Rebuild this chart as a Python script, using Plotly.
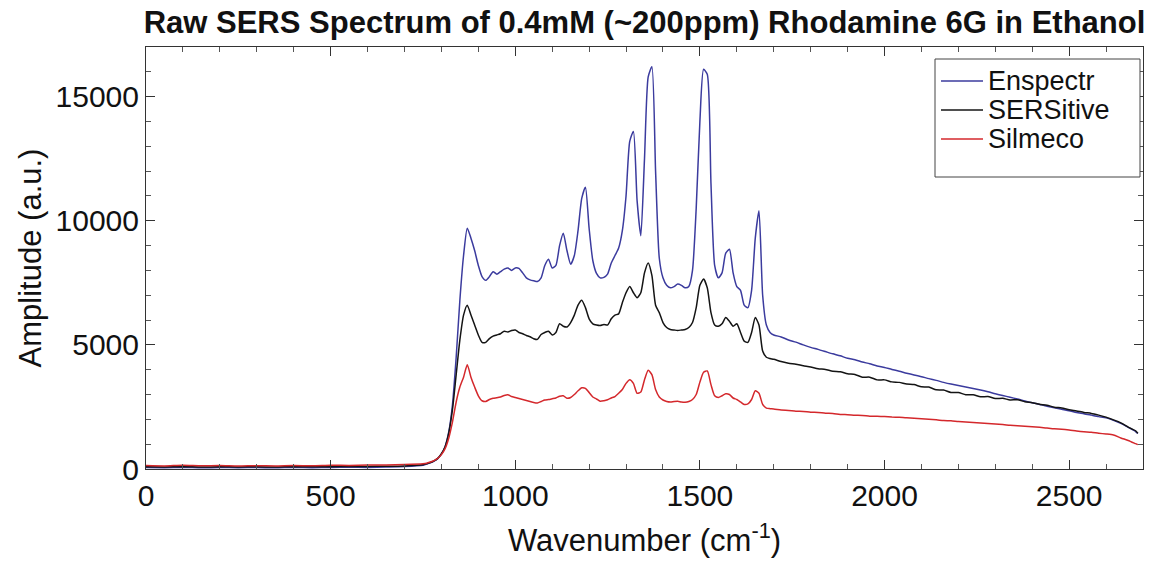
import plotly.graph_objects as go

# Wavenumber grid (cm^-1): coarse baseline, fine fingerprint region, medium tail
wavenumber = (
    [0, 50, 100, 150, 200, 250, 300, 350, 400, 450, 500, 550, 600, 650, 700, 750]
    + list(range(760, 1701, 10))
    + list(range(1720, 2681, 20))
    + [2686]
)

baseline_enspectr = [60, 55, 65, 50, 60, 55, 60, 50, 65, 55, 60, 70, 65, 80, 100, 150]
baseline_sersitive = [90, 85, 95, 80, 90, 85, 90, 80, 95, 90, 95, 100, 105, 110, 125, 170]
baseline_silmeco = [140, 125, 150, 130, 140, 120, 135, 125, 140, 130, 150, 145, 160, 165, 180, 210]

# 760 ... 1700 cm^-1, every 10
peaks_enspectr = [
    200, 250, 320, 420, 600, 900, 1500, 2600, 4500, 6800,
    8600, 9700, 9300, 8800, 8200, 7750, 7600, 7750, 7950, 7850,
    7950, 8050, 8100, 8000, 8100, 8080, 7900, 7700, 7620, 7580,
    7550, 7700, 8200, 8450, 8100, 8200, 9000, 9500, 8800, 8250,
    8600, 9600, 10900, 11350, 9700, 8400, 7880, 7700, 7720, 7850,
    8300, 8600, 8900, 9600, 11000, 13200, 13600, 10800, 9400, 12500,
    15800, 16200, 12000, 8500, 7700, 7400, 7300, 7350, 7450, 7400,
    7300, 7350, 8000, 10500, 14000, 16100, 15900, 11500, 8200, 7700,
    7900, 8700, 8850, 7900, 7350, 7200, 6600, 6500, 7200, 9300,
    10400, 7000, 5800, 5500, 5400,
]
peaks_sersitive = [
    210, 260, 330, 430, 620, 900, 1450, 2400, 3800, 5200,
    6200, 6600, 6200, 5800, 5400, 5100, 5100, 5250, 5350, 5400,
    5450, 5550, 5520, 5580, 5600, 5500, 5450, 5380, 5330, 5250,
    5220, 5420, 5500, 5550, 5400, 5500, 5850, 5750, 5720, 5900,
    6200, 6600, 6800, 6500, 6050, 5850, 5800, 5780, 5820, 5800,
    6050, 6200, 6250, 6700, 7100, 7350, 7100, 6900, 7100, 7900,
    8300, 7800, 6600, 6300, 5900, 5700, 5620, 5600, 5580, 5600,
    5620, 5700, 5900, 6500, 7400, 7650, 7300, 6300, 5800, 5750,
    5850, 6100, 5950, 5750, 5850, 5500, 5150, 5100, 5500, 6100,
    5800, 4750, 4500, 4450, 4420,
]
peaks_silmeco = [
    230, 280, 340, 430, 580, 820, 1250, 1900, 2700, 3300,
    3700, 4200, 3700, 3300, 2950, 2750, 2720, 2800, 2850, 2870,
    2900, 2960, 2990, 2920, 2880, 2840, 2800, 2760, 2720, 2680,
    2660, 2720, 2780, 2800, 2830, 2860, 2930, 2950, 2850, 2880,
    3000, 3150, 3270, 3250, 3080, 2900, 2820, 2730, 2750, 2790,
    2860, 2920, 3050, 3200, 3450, 3600, 3450, 3050, 3100, 3600,
    3980, 3800, 3200, 2900, 2780, 2720, 2700, 2720, 2730, 2700,
    2690, 2720, 2800, 3000, 3500, 3900, 3950, 3400, 2950, 2880,
    2950, 3030, 3000, 2860, 2800, 2700, 2600, 2620, 2800, 3150,
    3050, 2600, 2450, 2430, 2420,
]

# 1720 ... 2680 cm^-1, every 20, then 2686
tail_enspectr = [
    5320, 5200, 5110, 5000, 4900, 4820, 4730, 4640, 4560, 4460,
    4400, 4310, 4240, 4150, 4090, 4010, 3940, 3860, 3790, 3720,
    3640, 3570, 3490, 3420, 3360, 3300, 3240, 3180, 3110, 3030,
    2960, 2890, 2820, 2740, 2670, 2600, 2530, 2470, 2410, 2350,
    2280, 2230, 2170, 2110, 2060, 1960, 1840, 1680, 1510, 1430,
]
tail_sersitive = [
    4330, 4260, 4220, 4160, 4110, 4040, 4010, 3940, 3920, 3840,
    3810, 3700, 3700, 3590, 3590, 3510, 3490, 3420, 3400, 3310,
    3300, 3190, 3180, 3080, 3080, 2990, 2990, 2910, 2920, 2840,
    2850, 2780, 2790, 2710, 2670, 2610, 2570, 2490, 2460, 2390,
    2340, 2280, 2240, 2170, 2090, 1980, 1860, 1690, 1540, 1440,
]
tail_silmeco = [
    2380, 2360, 2330, 2320, 2290, 2280, 2250, 2240, 2200, 2190,
    2170, 2160, 2130, 2120, 2110, 2090, 2080, 2060, 2040, 2020,
    2000, 1980, 1950, 1940, 1910, 1890, 1870, 1850, 1830, 1810,
    1790, 1760, 1740, 1720, 1700, 1680, 1650, 1620, 1600, 1570,
    1530, 1500, 1480, 1440, 1410, 1370, 1250, 1150, 1020, 980,
]

series_names = ["Enspectr", "SERSitive", "Silmeco"]
series_colors = ["#3b3b9e", "#141414", "#d4282c"]
series_values = [
    baseline_enspectr + peaks_enspectr + tail_enspectr,
    baseline_sersitive + peaks_sersitive + tail_sersitive,
    baseline_silmeco + peaks_silmeco + tail_silmeco,
]

FONT = "Liberation Sans, Arial, Helvetica, sans-serif"
W, H = 1154, 561
L, R, T, B = 146, 11, 47, 92

fig = go.Figure()
for name, color, values in zip(series_names, series_colors, series_values):
    fig.add_trace(go.Scatter(
        x=wavenumber, y=values, name=name, mode="lines",
        line=dict(color=color, width=1.5, shape="spline", smoothing=0.6),
        showlegend=False,
    ))

axis_common = dict(
    showgrid=False, zeroline=False, showline=True, linecolor="#333333", linewidth=1,
    mirror="allticks", ticks="inside", ticklen=9, tickcolor="#333333", tickwidth=1,
    tickfont=dict(family=FONT, size=30, color="#111111"),
)
fig.update_xaxes(
    range=[0, 2700], tick0=0, dtick=500, tickformat="d",
    minor=dict(ticks="inside", ticklen=5, dtick=100, tickcolor="#555555"),
    title=dict(text="Wavenumber (cm<sup>-1</sup>)", font=dict(family=FONT, size=31, color="#111111"),
               standoff=18),
    **axis_common,
)
fig.update_yaxes(
    range=[0, 17000], tick0=0, dtick=5000, tickformat="d",
    minor=dict(ticks="inside", ticklen=5, dtick=1000, tickcolor="#555555"),
    title=dict(text="Amplitude (a.u.)", font=dict(family=FONT, size=31, color="#111111"),
               standoff=4),
    **axis_common,
)

# Legend box drawn in paper coordinates
pw, ph = W - L - R, H - T - B
def px(xpix):
    return (xpix - L) / pw
def py(ypix):
    return (H - B - ypix) / ph

fig.add_shape(type="rect", xref="paper", yref="paper",
              x0=px(935), x1=px(1140), y0=py(177), y1=py(59),
              line=dict(color="#444444", width=1), fillcolor="white", layer="above")
for i, (name, color) in enumerate(zip(series_names, series_colors)):
    yrow = 81 + 29 * i
    fig.add_shape(type="line", xref="paper", yref="paper",
                  x0=px(941), x1=px(983), y0=py(yrow), y1=py(yrow),
                  line=dict(color=color, width=1.5), layer="above")
    fig.add_annotation(xref="paper", yref="paper", x=px(986), y=py(yrow),
                       text=name, showarrow=False, xanchor="left", yanchor="middle",
                       font=dict(family=FONT, size=27, color="#111111"))

fig.update_layout(
    width=W, height=H,
    margin=dict(l=L, r=R, t=T, b=B, autoexpand=False),
    paper_bgcolor="white", plot_bgcolor="white",
    title=dict(text="<b>Raw SERS Spectrum of 0.4mM (~200ppm) Rhodamine 6G in Ethanol</b>",
               x=0.5, xref="paper", xanchor="center", y=1 - 22 / H, yref="container",
               yanchor="middle", font=dict(family=FONT, size=31, color="#111111")),
    showlegend=False,
)

fig.write_html("out.html")
